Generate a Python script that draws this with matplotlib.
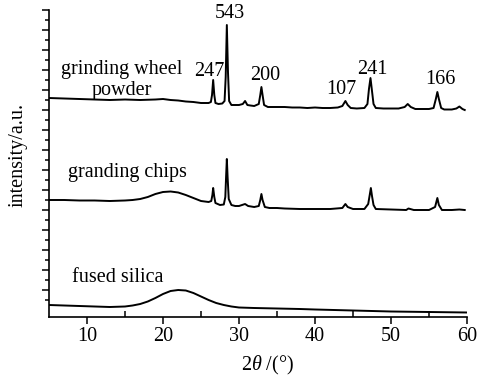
import matplotlib
matplotlib.use("Agg")
import matplotlib.pyplot as plt
from matplotlib.ticker import FixedLocator, NullFormatter

plt.rcParams['font.family'] = ['Liberation Serif', 'DejaVu Serif']
plt.rcParams['mathtext.fontset'] = 'custom'
plt.rcParams['mathtext.rm'] = 'Liberation Serif'
plt.rcParams['mathtext.it'] = 'Liberation Serif:italic'

# ---- data (2theta in degrees, intensity in arbitrary units) ----
wheel_x = [5, 7, 9, 11, 13, 15, 17, 19, 20, 21, 22, 23, 24, 25, 26, 26.3, 26.45, 26.6, 26.75, 26.9,
           27.3, 27.8, 28.1, 28.25, 28.4, 28.55, 28.7, 29.0, 29.5, 30.0, 30.5, 30.8, 31.1, 31.5, 32.0,
           32.6, 32.8, 32.95, 33.1, 33.3, 33.8, 35, 36, 37, 38, 39, 40, 41, 42, 43, 43.6, 44.0, 44.3,
           44.7, 45.5, 46.5, 46.9, 47.1, 47.3, 47.5, 47.7, 48.0, 49, 50, 51, 51.8, 52.2, 52.6, 53.2,
           54, 55, 55.6, 55.9, 56.1, 56.3, 56.6, 57, 58, 58.6, 59.0, 59.4, 59.7]
wheel_y = [219, 218.5, 218, 217.5, 217, 217.5, 217, 217.5, 218, 217, 216.5, 215.5, 215, 214, 214, 215, 222, 237, 222, 214,
           213, 213.5, 216, 240, 292, 245, 216, 212, 212, 212, 213, 216, 212, 211.5, 211,
           213, 222, 230, 222, 212, 210, 210, 210, 209.5, 209.5, 209, 209.5, 209, 209, 209.5, 211, 216, 212,
           209, 208.5, 209, 213, 228, 239, 226, 213, 209, 208.5, 208.5, 208.5, 210, 213, 210, 208,
           208, 208, 209, 218, 225, 218, 209, 207.5, 207.5, 208.5, 210.5, 208, 207]

chips_x = [5, 7, 9, 11, 13, 15, 16, 17, 18, 19, 20, 21, 22, 23, 24, 25, 26, 26.35, 26.5, 26.6, 26.75, 26.9,
           27.5, 28.0, 28.2, 28.3, 28.4, 28.5, 28.65, 29.0, 29.5, 30, 30.8, 31.2, 32, 32.6, 32.8, 32.95,
           33.1, 33.4, 34, 35, 36, 38, 40, 42, 43.6, 44.0, 44.3, 45, 46.5, 47.0, 47.2, 47.35, 47.5, 47.7,
           48, 50, 52, 52.3, 53, 55, 55.8, 56.1, 56.3, 56.7, 58, 59, 59.7]
chips_y = [117, 117, 116.5, 116.5, 116, 116.5, 117, 118, 120, 123, 125, 125.5, 124.5, 122, 119, 116, 115, 116, 122, 129, 120, 114,
           112, 112.5, 120, 140, 158, 140, 118, 112, 111, 111, 113, 111, 110, 111, 117, 123,
           117, 110, 109, 109, 108.5, 108, 108, 108, 109, 113, 110, 108, 108, 113, 122, 129, 121, 112,
           108, 107.5, 107, 108.5, 107, 107, 110, 119, 112, 107, 107, 107.5, 107]

silica_x = [5, 7, 9, 11, 13, 15, 16, 17, 18, 19, 20, 21, 22, 23, 24, 25, 26, 27, 28, 29, 30, 32, 35, 38,
            40, 45, 50, 55, 60]
silica_y = [12, 11.5, 11, 10.5, 10, 10.5, 11.5, 13, 15.5, 19, 23, 26, 27, 26.5, 24, 20.5, 17, 14, 12, 10.5,
            9.5, 9, 8.5, 8, 7.5, 6.5, 5.5, 5, 4.5]

curve_labels = ["grinding wheel\npowder", "granding chips", "fused silica"]
curve_label_x = [14.6, 15.3, 14.0]
curve_label_y = [237, 144, 39]

peak_labels = ["247", "543", "200", "107", "241", "166"]
peak_label_x = [26.1, 28.8, 33.4, 43.5, 47.6, 56.5]
peak_label_y = [246, 304, 241, 228, 248, 238]

x_ticks = [10, 20, 30, 40, 50, 60]

# ---- figure ----
fig = plt.figure(figsize=(4.81, 3.81), dpi=100)
ax = fig.add_axes([49/481, 64/381, 418/481, 307/381])

for xs, ys in [(wheel_x, wheel_y), (chips_x, chips_y), (silica_x, silica_y)]:
    ax.plot(xs, ys, color='black', lw=1.4)

for t, x, y in zip(curve_labels, curve_label_x, curve_label_y):
    ax.text(x, y, t, ha='center', va='center', fontsize=14.5, linespacing=1.1)
for t, x, y in zip(peak_labels, peak_label_x, peak_label_y):
    ax.text(x, y, t, ha='center', va='center', fontsize=14.5, clip_on=False)

ax.set_xlim(5, 60)
ax.set_ylim(0, 307)
for s in ['top', 'right']:
    ax.spines[s].set_visible(False)
for s in ['left', 'bottom']:
    ax.spines[s].set_linewidth(1.2)

ax.xaxis.set_major_locator(FixedLocator(x_ticks))
ax.xaxis.set_minor_locator(FixedLocator([15, 25, 35, 45, 55]))
ax.tick_params(axis='x', which='major', direction='out', length=5, width=1.1, labelsize=14.5, pad=2)
ax.tick_params(axis='x', which='minor', direction='in', length=4, width=1.1)

ax.yaxis.set_major_locator(FixedLocator(list(range(27, 308, 20))))
ax.yaxis.set_minor_locator(FixedLocator(list(range(17, 300, 20))))
ax.yaxis.set_major_formatter(NullFormatter())
ax.tick_params(axis='y', which='major', direction='out', length=5, width=1.1)
ax.tick_params(axis='y', which='minor', direction='out', length=3, width=1.1)

fig.text(18/481, 1 - 155/381, "intensity/a.u.", rotation=90, ha='center', va='center', fontsize=14.5)
fig.text(268/481, 1 - 365/381, r"2$\mathit{\theta}$ /(°)", ha='center', va='center', fontsize=14.5)

fig.savefig("out.png", dpi=100)
